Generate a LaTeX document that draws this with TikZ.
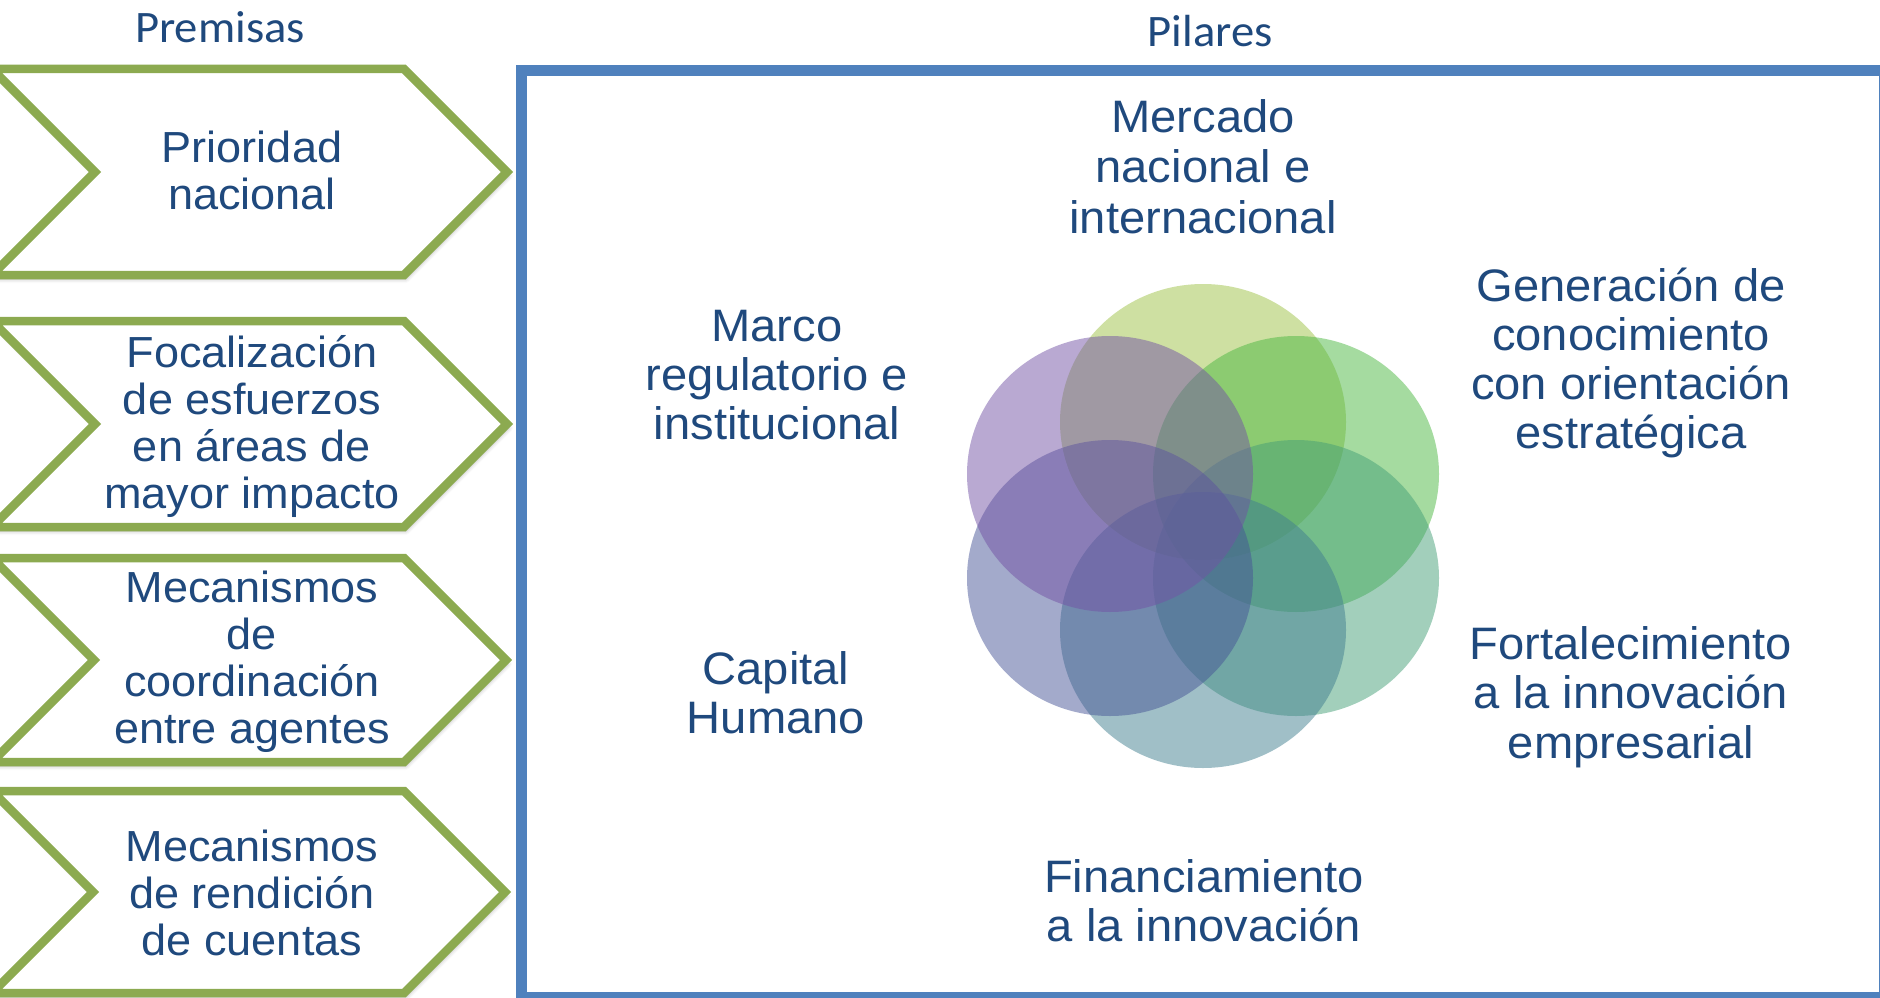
\documentclass[tikz,border=0pt]{standalone}
\usepackage{fontspec}
\newfontfamily\arialx[FakeStretch=1.036]{Liberation Sans}
\newfontfamily\calx[FakeStretch=1.036]{Carlito}
\usetikzlibrary{shadows.blur}
\definecolor{txtblue}{HTML}{1F497D}
\definecolor{frameblue}{HTML}{4F81BD}
\definecolor{chevgreen}{HTML}{8CAA50}
\definecolor{cTop}{RGB}{157,193,69}
\definecolor{cUR}{RGB}{75,183,65}
\definecolor{cLR}{RGB}{69,159,119}
\definecolor{cBot}{RGB}{65,127,143}
\definecolor{cLL}{RGB}{71,85,151}
\definecolor{cUL}{RGB}{115,83,165}
\newcommand\drawchev[2]{%
  \draw[chevron] (-8,{#1-#2}) -- (404,{#1-#2}) -- ({404+#2},#1) -- (404,{#1+#2})
    -- (-8,{#1+#2}) -- ({-8+#2},#1) -- cycle;}
\tikzset{
  chevron/.style={draw=chevgreen, line width=8.5pt, fill=white, line join=miter,
    blur shadow={shadow xshift=2pt, shadow yshift=-4pt, shadow blur radius=4pt, shadow opacity=30}},
  premtext/.style={anchor=base, align=center, inner sep=0pt, text=txtblue,
    font=\arialx\fontsize{43.5}{46.7}\selectfont},
  piltext/.style={anchor=base, align=center, inner sep=0pt, text=txtblue,
    font=\arialx\fontsize{45.5}{#1}\selectfont},
  piltext/.default=48.5,
  head/.style={anchor=base, inner sep=0pt, text=txtblue,
    font=\calx\fontsize{45}{54}\selectfont},
  petal/.style={fill=#1, fill opacity=0.5}
}
\begin{document}
\begin{tikzpicture}[x=1pt,y=-1pt]
\useasboundingbox (0,0) rectangle (1880,998);
\clip (0,0) rectangle (1880,998);
% headers
\node[head] (hprem) at (220,43) {Premisas};
\node[head] (hpil) at (1210,47) {Pilares};
% chevrons
\drawchev{172}{103}
\drawchev{424}{103}
\drawchev{660}{102}
\drawchev{892}{101}
% anchor=base is the baseline of the last line
\node[premtext] (p1) at (252,209) {Prioridad\\nacional};
\node[premtext] (p2) at (252,508) {Focalización\\de esfuerzos\\en áreas de\\mayor impacto};
\node[premtext] (p3) at (252,743) {Mecanismos\\de\\coordinación\\entre agentes};
\node[premtext] (p4) at (252,955) {Mecanismos\\de rendición\\de cuentas};
% frame
\draw[frameblue, line width=11pt] (521,71) rectangle (1884,997);
% circles
\fill[petal=cTop] (1203,422) ellipse [x radius=143, y radius=138];
\fill[petal=cUR]  (1296,474) ellipse [x radius=143, y radius=138];
\fill[petal=cLR]  (1296,578) ellipse [x radius=143, y radius=138];
\fill[petal=cBot] (1203,630) ellipse [x radius=143, y radius=138];
\fill[petal=cLL]  (1110,578) ellipse [x radius=143, y radius=138];
\fill[petal=cUL]  (1110,474) ellipse [x radius=143, y radius=138];
% pillar labels
\node[piltext=50.5] (lmer) at (1203,233) {Mercado\\nacional e\\internacional};
\node[piltext=49] (lgen) at (1631,448) {Generación de\\conocimiento\\con orientación\\estratégica};
\node[piltext=49] (lmar) at (777,439) {Marco\\regulatorio e\\institucional};
\node[piltext=49] (lcap) at (776,733) {Capital\\Humano};
\node[piltext=49.5] (lfor) at (1631,758) {Fortalecimiento\\a la innovación\\empresarial};
\node[piltext=49] (lfin) at (1204,941) {Financiamiento\\a la innovación};
\end{tikzpicture}
\end{document}
